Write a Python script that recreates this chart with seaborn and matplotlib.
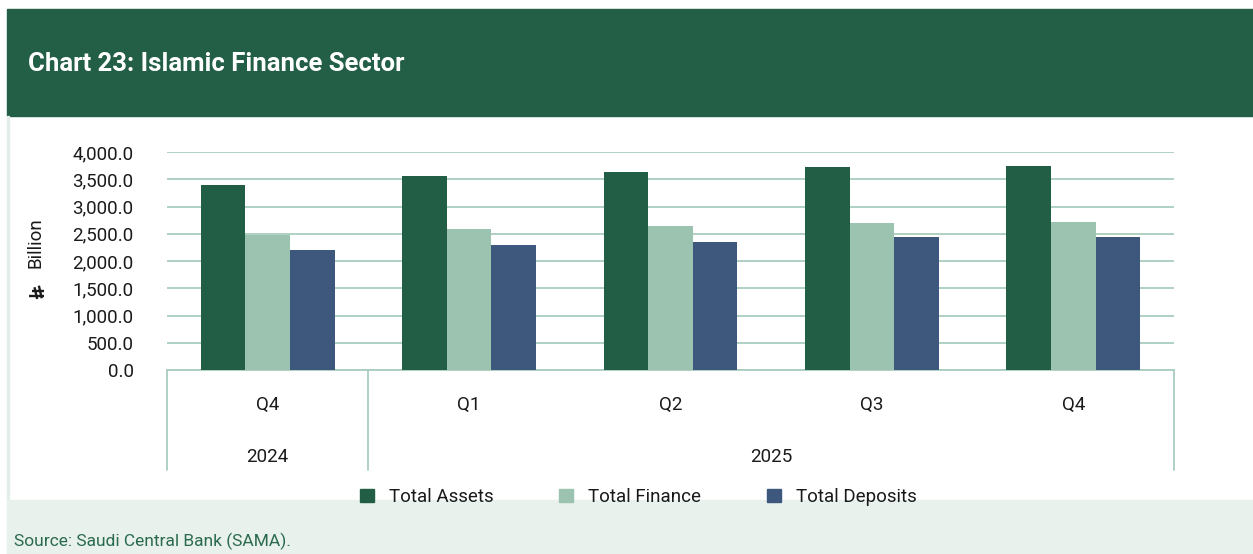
import matplotlib
matplotlib.use("Agg")
import matplotlib.pyplot as plt
import matplotlib.patches as mpatches
import matplotlib.lines as mlines
import matplotlib.transforms as mtransforms
import seaborn as sns
import pandas as pd

# ---- data ----
periods = ["Q4 2024", "Q1 2025", "Q2 2025", "Q3 2025", "Q4 2025"]
quarter_labels = ["Q4", "Q1", "Q2", "Q3", "Q4"]
years = ["2024", "2025"]
year_spans = [(0, 0), (1, 4)]
series = ["Total Assets", "Total Finance", "Total Deposits"]
total_assets = [3390, 3555, 3628, 3730, 3742]
total_finance = [2472, 2582, 2637, 2705, 2722]
total_deposits = [2198, 2290, 2357, 2440, 2436]
yticks = [0, 500, 1000, 1500, 2000, 2500, 3000, 3500, 4000]

colors = ["#225E45", "#9BC3B0", "#3D587C"]
grid_c = "#A9CDBE"
txt_c = "#1a1a1a"

df = pd.DataFrame({
    "period": periods * 3,
    "series": [s for s in series for _ in periods],
    "value": total_assets + total_finance + total_deposits,
})

sns.set_theme(style="white")
plt.rcParams['font.family'] = ['Roboto', 'DejaVu Sans', 'Noto Sans']

W, H = 1253, 554
fig = plt.figure(figsize=(W / 100, H / 100), dpi=100)

# header band
fig.patches.append(mpatches.Rectangle((7 / W, 1 - 116 / H), 1 - 7 / W, 107 / H,
                                      transform=fig.transFigure, color="#235E46", zorder=0))
fig.text(28 / W, 1 - 64 / H, "Chart 23: Islamic Finance Sector", color="white",
         fontsize=18.5, fontweight="bold", va="center", ha="left")
# left border
fig.patches.append(mpatches.Rectangle((7 / W, 1 - 500 / H), 2 / W, 384 / H,
                                      transform=fig.transFigure, color="#E3EEE9", zorder=0))
# source band
fig.patches.append(mpatches.Rectangle((7 / W, 0), 1 - 7 / W, 54 / H,
                                      transform=fig.transFigure, color="#E8F1EC", zorder=0))
fig.text(14 / W, 1 - 541 / H, "Source: Saudi Central Bank (SAMA).", color="#2A6A4E",
         fontsize=12.5, va="center", ha="left")

ax = fig.add_axes([167 / W, 1 - 370 / H, (1174 - 167) / W, 218 / H])
sns.barplot(data=df, x="period", y="value", hue="series", order=periods,
            hue_order=series, palette=colors, width=0.665, saturation=1,
            edgecolor="none", linewidth=0, ax=ax, legend=False, zorder=3)

ax.set_ylim(0, 4000)
ax.set_xlim(-0.5, 4.5)
ax.set_yticks(yticks)
ax.set_yticklabels([f"{v:,.1f}" for v in yticks], fontsize=13.5, color=txt_c)
ax.yaxis.grid(True, color=grid_c, linewidth=1.3, zorder=0)
ax.set_axisbelow(True)
for s in ["top", "right", "left"]:
    ax.spines[s].set_visible(False)
ax.spines["bottom"].set_color(grid_c)
ax.spines["bottom"].set_linewidth(1.3)
ax.tick_params(axis="y", length=0, pad=24)
ax.tick_params(axis="x", length=0)
ax.set_xticks(range(len(periods)))
ax.set_xticklabels([])
ax.set_xlabel("")
ax.set_ylabel("")

# y-axis label: Saudi Riyal sign (no installed font has U+20C1, drawn as a shape) + "Billion"
fig.text(35 / W, 1 - 243 / H, "Billion", rotation=90, ha="center", va="center",
         fontsize=13.5, color=txt_c)
# glyph in upright em-units (u right, v up), rotated 90deg CCW into the figure
em = 19.0
bx, by = 44.0, 299.0  # image px: baseline right edge, glyph start (bottom)
strokes = [
    [(0.18, 0.02), (0.18, 0.80)],
    [(0.42, 0.0), (0.42, 0.64)],
    [(0.0, 0.36), (0.62, 0.50)],
    [(0.04, 0.12), (0.70, 0.27)],
]
for st in strokes:
    xs = [(bx - v * em) / W for u, v in st]
    ys = [1 - (by - u * em) / H for u, v in st]
    fig.add_artist(mlines.Line2D(xs, ys, transform=fig.transFigure,
                                 color=txt_c, linewidth=1.7, solid_capstyle="butt"))

trans = mtransforms.blended_transform_factory(ax.transData, ax.transAxes)
for i, q in enumerate(quarter_labels):
    ax.text(i, -35 / 218, q, transform=trans, ha="center", va="center",
            fontsize=13.5, color=txt_c)
for y, (a, b) in zip(years, year_spans):
    ax.text((a + b) / 2, -87 / 218, y, transform=trans, ha="center", va="center",
            fontsize=13.5, color=txt_c)
for xb in [-0.5, 0.5, 4.5]:
    ax.plot([xb, xb], [0, -100 / 218], transform=trans, color=grid_c,
            linewidth=1.3, clip_on=False)

handles = [mpatches.Patch(color=c, label=s) for c, s in zip(colors, series)]
fig.legend(handles=handles, loc="center", bbox_to_anchor=(638 / W, 1 - 497 / H),
           ncol=3, frameon=False, fontsize=13.5, handlelength=0.75, handleheight=0.75,
           handletextpad=0.8, columnspacing=3.5, labelcolor=txt_c)

fig.savefig("out.png", dpi=100)
